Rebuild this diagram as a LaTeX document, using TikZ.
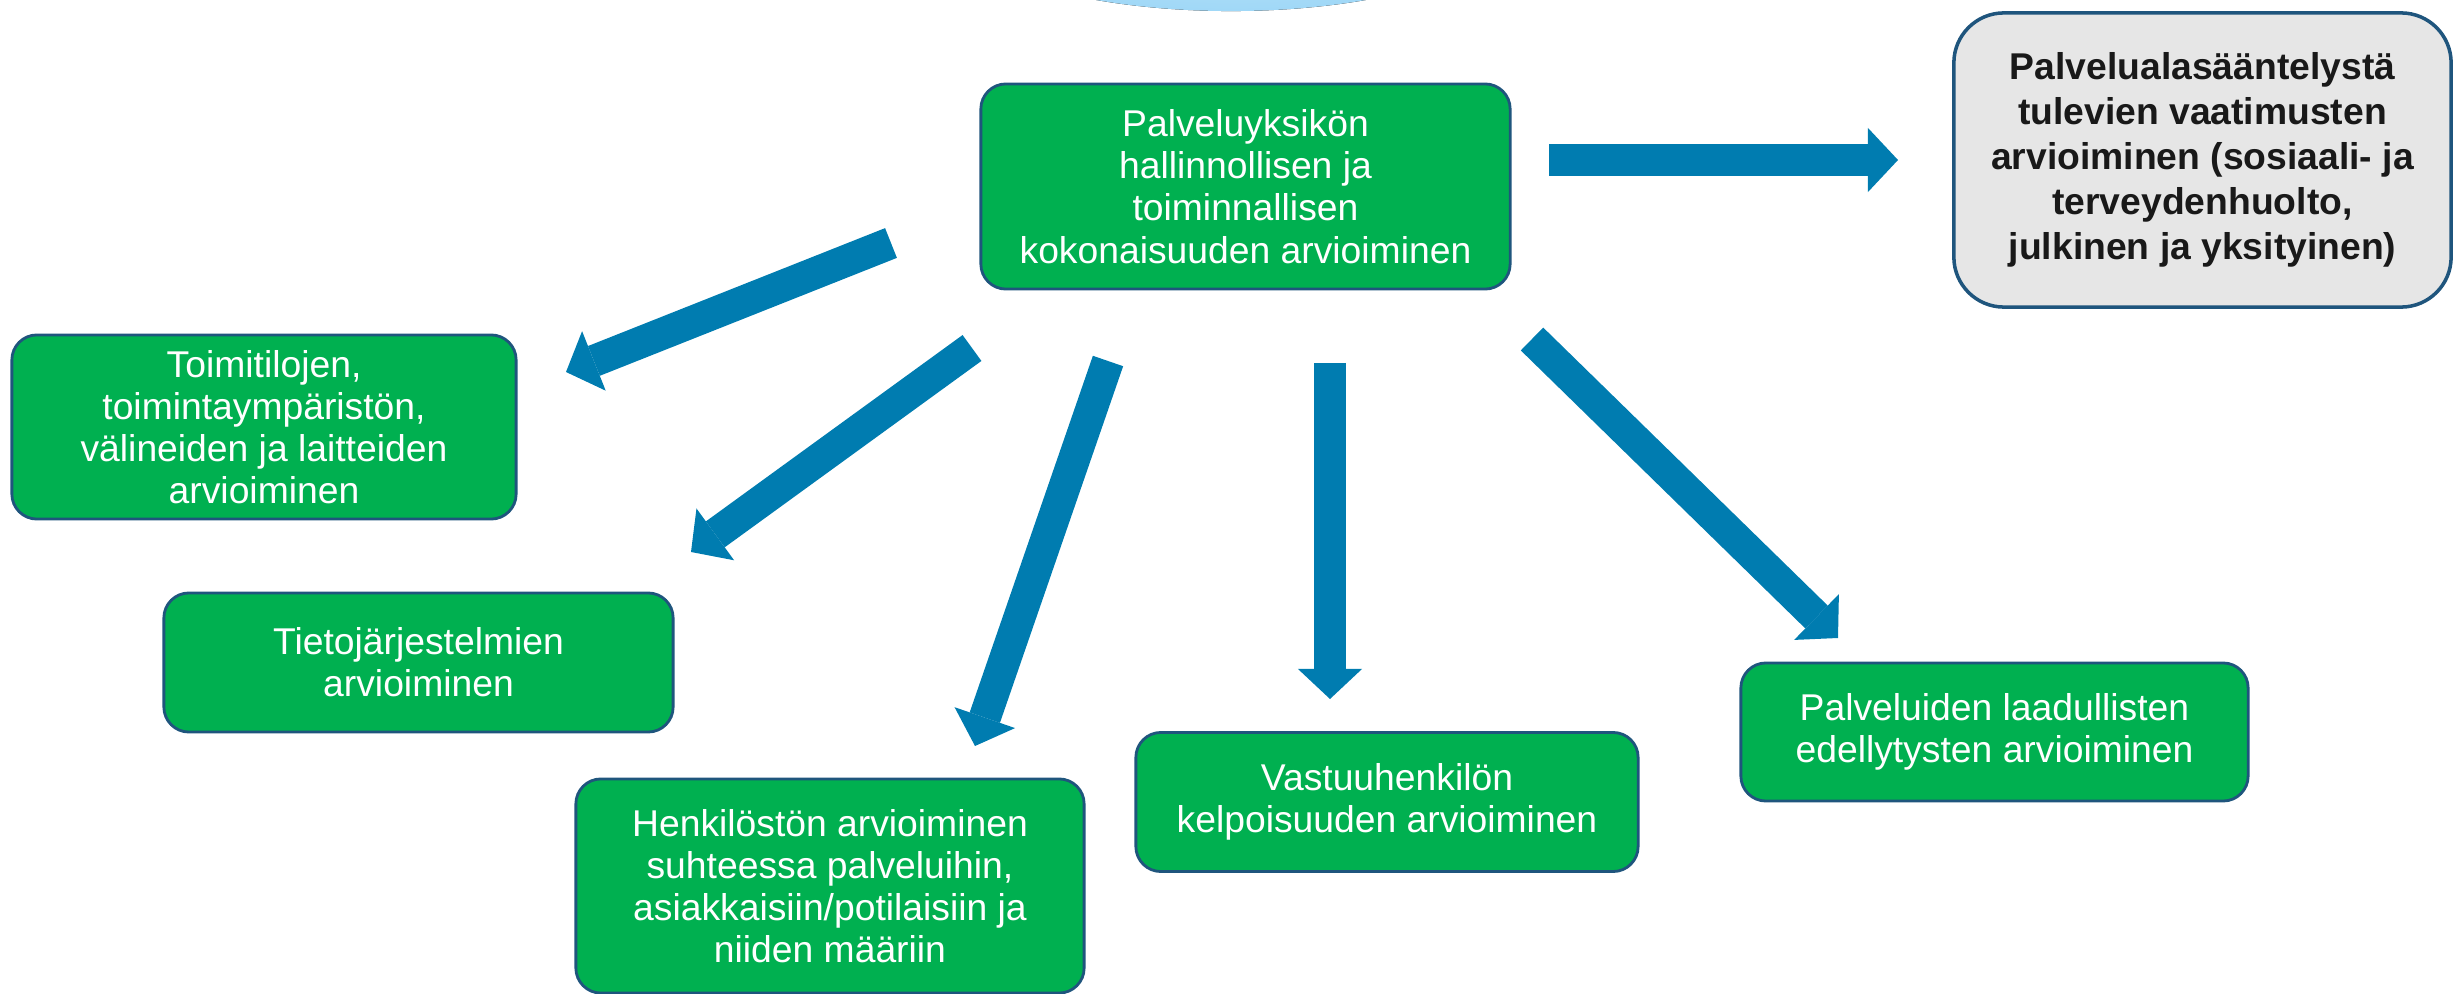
\documentclass[tikz,border=0pt]{standalone}
\usepackage{fontspec}
\setmainfont{Liberation Sans}
\usetikzlibrary{arrows.meta}
\definecolor{boxgreen}{RGB}{0,176,80}
\definecolor{boxline}{RGB}{31,85,125}
\definecolor{boxgray}{RGB}{230,230,230}
\definecolor{arrowblue}{RGB}{0,124,176}
\definecolor{archi}{RGB}{206,234,250}
\definecolor{arclo}{RGB}{160,216,247}
\tikzset{greenbox/.style={draw=boxline, line width=0.8pt, fill=boxgreen, text=white, rounded corners=0.25cm, align=center, inner sep=0pt, font=\fontsize{10.6}{12}\selectfont}}
\tikzset{graybox/.style={draw=boxline, line width=1pt, fill=boxgray, text=black!90, rounded corners=0.5cm, align=center, inner sep=0pt, font=\bfseries\fontsize{10.6}{12.8}\selectfont}}
\tikzset{bigarrow/.style={arrowblue, line width=0.32cm, -{Triangle[width=0.64cm, length=0.30cm, line width=0pt]}}}

\begin{document}
\begin{tikzpicture}[x=0.01cm,y=-0.01cm]
        \useasboundingbox (0,0) rectangle (2453,994);

        \fill[inner color=archi, outer color=arclo] (1231,-93) ellipse [x radius=3cm, y radius=1.04cm];

        \node[greenbox, minimum width=5.29cm, minimum height=2.05cm] (yksikko) at (1245.5,186.5)
            {Palveluyksikön\\hallinnollisen ja\\toiminnallisen\\kokonaisuuden arvioiminen};
        \node[graybox, minimum width=4.97cm, minimum height=2.94cm] (saantely) at (2202.5,160)
            {Palvelualasääntelystä\\tulevien vaatimusten\\arvioiminen (sosiaali- ja\\terveydenhuolto,\\julkinen ja yksityinen)};

        \node[greenbox, minimum width=5.04cm, minimum height=1.84cm] (tilat) at (264,427)
            {Toimitilojen,\\toimintaympäristön,\\välineiden ja laitteiden\\arvioiminen};
        \node[greenbox, minimum width=5.09cm, minimum height=1.39cm] (tieto) at (418.5,662.5)
            {Tietojärjestelmien\\arvioiminen};
        \node[greenbox, minimum width=5.08cm, minimum height=2.14cm] (henkilosto) at (830,886)
            {Henkilöstön arvioiminen\\suhteessa palveluihin,\\asiakkaisiin/potilaisiin ja\\niiden määriin};
        \node[greenbox, minimum width=5.02cm, minimum height=1.39cm] (vastuu) at (1387,802)
            {Vastuuhenkilön\\kelpoisuuden arvioiminen};
        \node[greenbox, minimum width=5.07cm, minimum height=1.38cm] (laatu) at (1994.5,732)
            {Palveluiden laadullisten\\edellytysten arvioiminen};

        \coordinate (saantelyA) at (1549,160);
        \coordinate (saantelyB) at (1898,160);
        \coordinate (tilatA) at (891,243);
        \coordinate (tilatB) at (566,372);
        \coordinate (tietoA) at (972,348);
        \coordinate (tietoB) at (691,552);
        \coordinate (henkilostoA) at (1108,361);
        \coordinate (henkilostoB) at (975,746);
        \coordinate (vastuuA) at (1330,363);
        \coordinate (vastuuB) at (1330,699);
        \coordinate (laatuA) at (1532,339);
        \coordinate (laatuB) at (1838,638);

        \draw[bigarrow] (saantelyA) -- (saantelyB);
        \draw[bigarrow] (tilatA) -- (tilatB);
        \draw[bigarrow] (tietoA) -- (tietoB);
        \draw[bigarrow] (henkilostoA) -- (henkilostoB);
        \draw[bigarrow] (vastuuA) -- (vastuuB);
        \draw[bigarrow] (laatuA) -- (laatuB);
    \end{tikzpicture}
\end{document}
